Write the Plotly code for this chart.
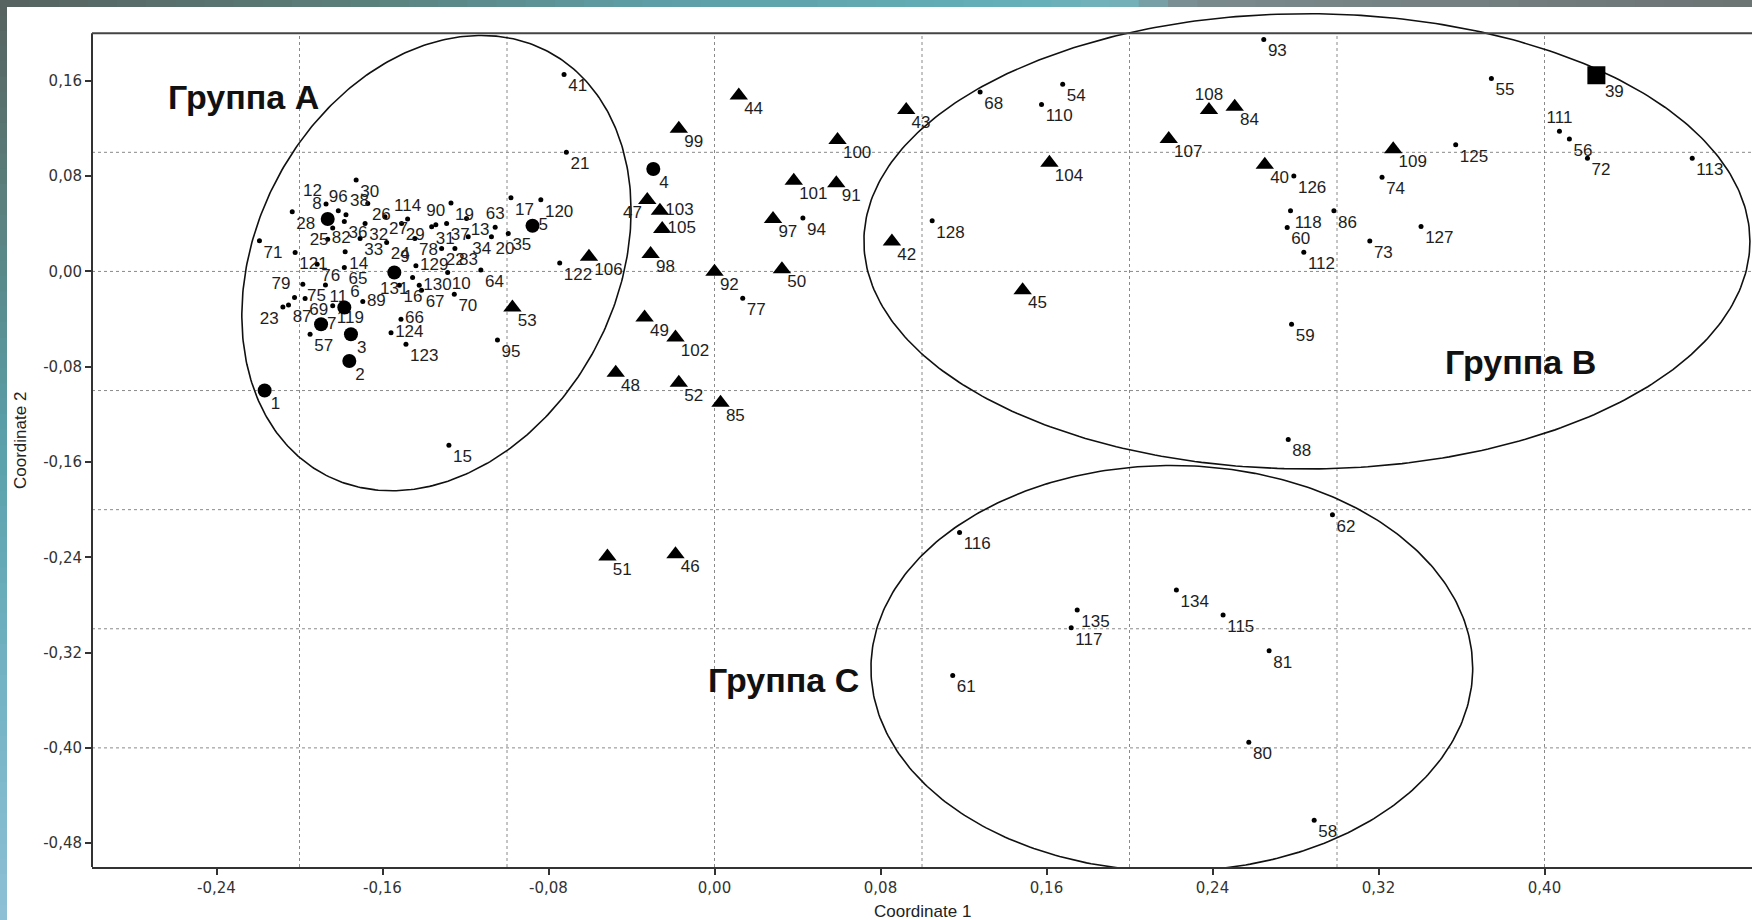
import numpy as np
import plotly.graph_objects as go

# ---------------- data ----------------
dot_labels = ["30","12","96","38","28","26","114","90","19","63","17","120","36","32","27","29","31","37","13",
              "25","82","33","24","78","34","20","35","71","121","14","22","83","76","65","129","64","122",
              "79","75","11","131","130","10","16","67","70","23","87","69","89","119","66","124","57","123","95",
              "41","21","77","94","128","68","54","110","93","126","118","60","112","86","74","73","127","125",
              "55","111","56","72","113","59","88","62","116","134","115","135","117","81","61","80","58","15"]
dot_x = [-0.1727,-0.1872,-0.1813,-0.1776,-0.2035,-0.1671,-0.1479,-0.1343,-0.1270,-0.1057,-0.0981,-0.0837,
         -0.1784,-0.1684,-0.1588,-0.1508,-0.1363,-0.1291,-0.1195,
         -0.1840,-0.1864,-0.1708,-0.1580,-0.1444,-0.1187,-0.1075,-0.0994,-0.2193,-0.2021,-0.1780,-0.1315,
         -0.1251,-0.1915,-0.1784,-0.1439,-0.1126,-0.0746,
         -0.2024,-0.1984,-0.1875,-0.1455,-0.1423,-0.1286,-0.1519,-0.1412,-0.1254,-0.2080,-0.2053,-0.1973,
         -0.1695,-0.1840,-0.1511,-0.1559,-0.1949,-0.1487,-0.1046,
         -0.0725,-0.0714,0.0136,0.0426,0.1049,0.1280,0.1678,0.1576,0.2647,0.2792,0.2776,0.2760,0.2840,
         0.2985,0.3217,0.3158,0.3405,0.3572,
         0.3744,0.4072,0.4120,0.4207,0.4712,0.2781,0.2765,0.2978,0.1181,0.2226,0.2451,0.1748,0.1719,0.2673,
         0.1148,0.2575,0.2890,-0.1280]
dot_y = [0.0768,0.0566,0.0510,0.0476,0.0501,0.0571,0.0440,0.0392,0.0574,0.0370,0.0619,0.0601,
         0.0420,0.0403,0.0459,0.0403,0.0375,0.0403,0.0445,
         0.0364,0.0271,0.0277,0.0243,0.0277,0.0291,0.0291,0.0319,0.0257,0.0159,0.0165,0.0193,
         0.0193,0.0061,0.0033,0.0047,0.0011,0.0070,
         -0.0219,-0.0107,-0.0113,-0.0051,-0.0116,-0.0009,-0.0116,-0.0157,-0.0191,-0.0298,-0.0281,-0.0228,
         -0.0253,-0.0289,-0.0401,-0.0514,-0.0528,-0.0612,-0.0575,
         0.1654,0.1000,-0.0225,0.0448,0.0426,0.1506,0.1571,0.1402,0.1947,0.0801,0.0509,0.0368,0.0162,
         0.0509,0.0791,0.0256,0.0378,0.1064,
         0.1619,0.1177,0.1111,0.0951,0.0951,-0.0444,-0.1412,-0.2042,-0.2191,-0.2674,-0.2885,-0.2843,-0.2992,
         -0.3185,-0.3393,-0.3952,-0.4607,-0.1460]

circle_labels = ["1","2","3","4","5","6","7","8","9"]
circle_x = [-0.2168,-0.1760,-0.1752,-0.0295,-0.0877,-0.1784,-0.1896,-0.1864,-0.1543]
circle_y = [-0.1000,-0.0752,-0.0528,0.0860,0.0384,-0.0303,-0.0444,0.0440,-0.0009]

tri_labels = ["53","47","103","105","98","106","99","44","49","102","48","52","85","92","50","97","101",
              "91","100","43","42","104","45","108","84","107","40","109","51","46"]
tri_x = [-0.0974,-0.0324,-0.0263,-0.0252,-0.0308,-0.0605,-0.0172,0.0117,-0.0337,-0.0188,-0.0476,-0.0172,
         0.0029,0.0000,0.0325,0.0282,0.0382,0.0587,0.0593,0.0924,0.0855,0.1614,0.1485,0.2383,0.2507,
         0.2189,0.2652,0.3271,-0.0516,-0.0188]
tri_y = [-0.0303,0.0600,0.0510,0.0356,0.0146,0.0123,0.1197,0.1477,-0.0387,-0.0555,-0.0850,-0.0934,
         -0.1102,-0.0003,0.0019,0.0440,0.0762,0.0740,0.1104,0.1356,0.0252,0.0913,-0.0158,0.1355,0.1383,
         0.1111,0.0895,0.1026,-0.2394,-0.2375]

square_labels = ["39"]
square_x = [0.4250]
square_y = [0.1647]

# group ellipses: centre and two conjugate semi-diameters (data units)
ellipse_A = dict(c=(-0.134, 0.007), u=(0.0938, 0.0440), v=(0.0, 0.1860))
ellipse_B = dict(c=(0.2855, 0.0253), u=(0.2135, 0.0), v=(0.0, 0.1911))
ellipse_C = dict(c=(0.2204, -0.3332), u=(0.1450, 0.0), v=(0.0, 0.1703))

group_names = ["Группа A", "Группа B", "Группа C"]
group_x = [-0.2642, 0.3510, -0.0043]
group_y = [0.1468, -0.0760, -0.3428]

tick_vals_x = [-0.24, -0.16, -0.08, 0.00, 0.08, 0.16, 0.24, 0.32, 0.40]
tick_text_x = ["-0,24", "-0,16", "-0,08", "0,00", "0,08", "0,16", "0,24", "0,32", "0,40"]
tick_vals_y = [0.16, 0.08, 0.00, -0.08, -0.16, -0.24, -0.32, -0.40, -0.48]
tick_text_y = ["0,16", "0,08", "0,00", "-0,08", "-0,16", "-0,24", "-0,32", "-0,40", "-0,48"]
grid_x = [-0.2, -0.1, 0.0, 0.1, 0.2, 0.3, 0.4]
grid_y = [0.1, 0.0, -0.1, -0.2, -0.3, -0.4]

# ---------------- style ----------------
label_pos = {"12": "top left", "96": "top center", "38": "top right", "8": "top left", "114": "top center",
             "90": "top center", "63": "top center", "5": "middle right", "25": "bottom left",
             "82": "middle right", "9": "top right", "129": "middle right", "79": "top left",
             "6": "top right", "131": "bottom left", "130": "middle right", "23": "bottom left",
             "89": "middle right", "7": "middle right", "66": "middle right", "124": "middle right",
             "47": "bottom left", "103": "middle right", "105": "middle right", "108": "top center",
             "111": "top center"}

W, H = 1752, 920
M_L, M_R, M_T, M_B = 92, 0, 7, 53
X_RANGE = [-0.30, 0.50]
Y_RANGE = [-0.50, 0.222]
FRAME_TOP = 0.20
LABEL_FONT = dict(family="Liberation Sans, Arial", size=17, color="#1e1e1e")

fig = go.Figure()


def add_points(labels, xs, ys, symbol, size, text_gap):
    fig.add_trace(go.Scatter(
        x=xs, y=ys, mode="markers", hoverinfo="skip", showlegend=False, cliponaxis=False,
        marker=dict(symbol=symbol, size=size, color="#000000", line=dict(width=0))))
    # labels: invisible marker of size text_gap controls the label offset from the point
    fig.add_trace(go.Scatter(
        x=xs, y=ys, mode="markers+text", text=labels,
        textposition=[label_pos.get(l, "bottom right") for l in labels],
        textfont=LABEL_FONT, cliponaxis=False, hoverinfo="skip", showlegend=False,
        marker=dict(size=text_gap, color="rgba(0,0,0,0)", line=dict(width=0))))


def add_ellipse(e):
    t = np.linspace(0, 2 * np.pi, 400)
    (cx, cy), (ux, uy), (vx, vy) = e["c"], e["u"], e["v"]
    fig.add_trace(go.Scatter(
        x=cx + ux * np.cos(t) + vx * np.sin(t), y=cy + uy * np.cos(t) + vy * np.sin(t),
        mode="lines", line=dict(color="#111111", width=1.6), hoverinfo="skip", showlegend=False))


for e in (ellipse_A, ellipse_B, ellipse_C):
    add_ellipse(e)

add_points(dot_labels, dot_x, dot_y, "circle", 5, 5)
add_points(circle_labels, circle_x, circle_y, "circle", 14, 8)
add_points(tri_labels, tri_x, tri_y, "triangle-up", 16, 7)
add_points(square_labels, square_x, square_y, "square", 18, 12)

shapes = []
for gx in grid_x:
    shapes.append(dict(type="line", xref="x", yref="y", x0=gx, x1=gx, y0=Y_RANGE[0], y1=FRAME_TOP,
                       line=dict(color="#8a8a8a", width=1, dash="dot"), layer="below"))
for gy in grid_y:
    shapes.append(dict(type="line", xref="paper", yref="y", x0=0, x1=1, y0=gy, y1=gy,
                       line=dict(color="#8a8a8a", width=1, dash="dot"), layer="below"))
# frame (left + top)
shapes.append(dict(type="line", xref="paper", yref="y", x0=0, x1=0, y0=Y_RANGE[0], y1=FRAME_TOP,
                   line=dict(color="#333333", width=2)))
shapes.append(dict(type="line", xref="paper", yref="y", x0=0, x1=1, y0=FRAME_TOP, y1=FRAME_TOP,
                   line=dict(color="#444444", width=2)))

# slide-like gradient border (top and left strips)
PW, PH = W - M_L - M_R, H - M_T - M_B


def pxx(px):
    return (px - M_L) / PW


def pxy(py):
    return (H - M_B - py) / PH


def hex2rgb(h):
    h = h.lstrip("#")
    return np.array([int(h[i:i + 2], 16) for i in (0, 2, 4)], dtype=float)


def grad(anchors, pos):
    ps = [a[0] for a in anchors]
    cols = np.array([hex2rgb(a[1]) for a in anchors])
    rgb = [np.interp(pos, ps, cols[:, k]) for k in range(3)]
    return "rgb(%d,%d,%d)" % tuple(int(round(v)) for v in rgb)


top_anchors = [(0, "#56625f"), (350, "#5a7e7a"), (650, "#5e9ea6"), (1000, "#63afb8"), (1120, "#74b2ba"),
               (1190, "#7a8b8e"), (1752, "#6d7373")]
left_anchors = [(0, "#56625f"), (200, "#5a807d"), (450, "#5aa1ab"), (700, "#75b4c5"), (920, "#8ec0d5")]
BORDER = 7
N = 60
for i in range(N):
    a, b = W * i / N, W * (i + 1) / N
    shapes.append(dict(type="rect", xref="paper", yref="paper", x0=pxx(a), x1=pxx(b + 1), y0=pxy(BORDER),
                       y1=pxy(0), fillcolor=grad(top_anchors, (a + b) / 2), line=dict(width=0), layer="below"))
for i in range(N):
    a, b = H * i / N, H * (i + 1) / N
    shapes.append(dict(type="rect", xref="paper", yref="paper", x0=pxx(0), x1=pxx(BORDER), y0=pxy(b + 1),
                       y1=pxy(a), fillcolor=grad(left_anchors, (a + b) / 2), line=dict(width=0), layer="below"))

annotations = []
for name, gx, gy in zip(group_names, group_x, group_y):
    annotations.append(dict(x=gx, y=gy, xref="x", yref="y", text="<b>%s</b>" % name, showarrow=False,
                            xanchor="left", yanchor="middle",
                            font=dict(family="Liberation Sans, Arial", size=34, color="#111111")))
annotations.append(dict(x=pxx(923), y=pxy(911), xref="paper", yref="paper", text="Coordinate 1",
                        showarrow=False, xanchor="center", yanchor="middle",
                        font=dict(family="Liberation Sans, Arial", size=17, color="#222222")))
annotations.append(dict(x=pxx(20), y=pxy(441), xref="paper", yref="paper", text="Coordinate 2",
                        showarrow=False, xanchor="center", yanchor="middle", textangle=-90,
                        font=dict(family="Liberation Sans, Arial", size=17, color="#222222")))

tickfont = dict(family="DejaVu Sans", size=15, color="#333333")
fig.update_layout(
    width=W, height=H, margin=dict(l=M_L, r=M_R, t=M_T, b=M_B),
    paper_bgcolor="white", plot_bgcolor="white",
    shapes=shapes, annotations=annotations, showlegend=False,
    xaxis=dict(range=X_RANGE, tickvals=tick_vals_x, ticktext=tick_text_x, ticks="outside", ticklen=6,
               tickwidth=1.5, tickcolor="#333333", showline=True, linewidth=2, linecolor="#333333",
               showgrid=False, zeroline=False, tickfont=tickfont, automargin=False),
    yaxis=dict(range=Y_RANGE, tickvals=tick_vals_y, ticktext=tick_text_y, ticks="outside", ticklen=6,
               tickwidth=1.5, tickcolor="#333333", showline=False,
               showgrid=False, zeroline=False, tickfont=tickfont, automargin=False),
)

fig.write_html("out.html", config={"displayModeBar": False},
               post_script="document.body.style.margin='0';document.body.style.overflow='hidden';")
